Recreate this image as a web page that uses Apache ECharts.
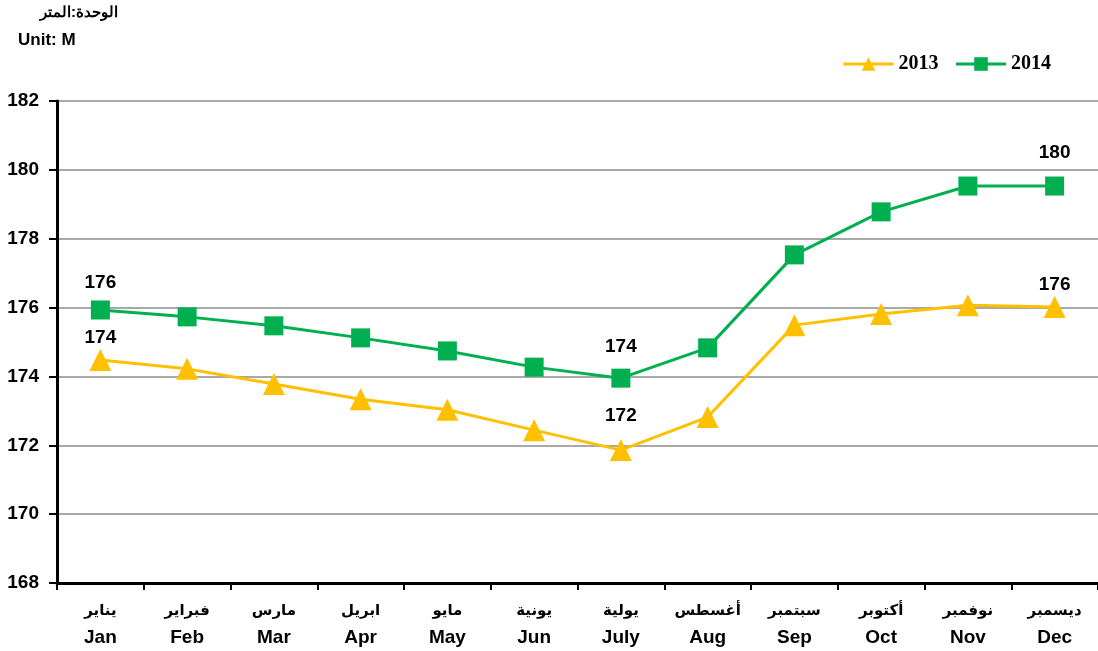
<!DOCTYPE html>
<html>
<head>
<meta charset="utf-8">
<script src="https://cdn.jsdelivr.net/npm/echarts@6/dist/echarts.min.js"></script>
<style>
  html, body { margin: 0; padding: 0; background: #fff; }
  #chart { width: 1098px; height: 651px; }
</style>
</head>
<body>
<div id="chart"></div>
<script>
const monthsEn = ['Jan', 'Feb', 'Mar', 'Apr', 'May', 'Jun', 'July', 'Aug', 'Sep', 'Oct', 'Nov', 'Dec']
const monthsAr = ['يناير', 'فبراير', 'مارس', 'ابريل', 'مايو', 'يونية', 'يولية', 'أغسطس', 'سبتمبر', 'أكتوبر', 'نوفمبر', 'ديسمبر']
const values2013 = [174.48, 174.22, 173.78, 173.34, 173.03, 172.44, 171.86, 172.82, 175.49, 175.81, 176.07, 176.02]
const values2014 = [175.93, 175.73, 175.47, 175.12, 174.74, 174.27, 173.95, 174.83, 177.53, 178.78, 179.53, 179.53]
const labeledIdx = [0, 6, 11]

const C2013 = '#FFC000'
const C2014 = '#00B050'

// label distances for the Jan / July / Dec points
function withLabels(vals, dist) {
  return vals.map((v, i) => labeledIdx.includes(i)
    ? { value: v, label: { show: true, position: 'top', distance: dist[labeledIdx.indexOf(i)] } }
    : v)
}

const chart = echarts.init(document.getElementById('chart'))
const labelFont = { fontFamily: 'Arial, Liberation Sans', fontWeight: 'bold', fontSize: 19, color: '#000' }

chart.setOption({
  animation: false,
  graphic: [
    { type: 'text', left: 40, top: 5, style: { text: 'الوحدة:المتر', font: 'bold 15px "Liberation Sans", Arial', fill: '#000' } },
    { type: 'text', left: 18, top: 32, style: { text: 'Unit: M', font: 'bold 17px "Liberation Sans", Arial', fill: '#000' } }
  ],
  legend: {
    top: 49, right: 42, itemWidth: 50, itemHeight: 17, itemGap: 16,
    lineStyle: { width: 3 },
    textStyle: { fontFamily: 'Liberation Serif, Times New Roman', fontWeight: 'bold', fontSize: 20, color: '#000' },
    data: ['2013', '2014']
  },
  grid: { left: 57, right: 0, top: 101, bottom: 68, containLabel: false },
  xAxis: {
    type: 'category',
    data: monthsEn,
    boundaryGap: true,
    axisLine: { lineStyle: { color: '#000', width: 3 } },
    axisTick: { show: true, length: 7, lineStyle: { color: '#000', width: 2 } },
    axisLabel: {
      interval: 0, margin: 14,
      formatter: (v, i) => '{ar|' + monthsAr[i] + '}\n{en|' + v + '}',
      rich: {
        ar: { fontFamily: 'Noto Sans, DejaVu Sans', fontWeight: 'bold', fontSize: 15, color: '#000', lineHeight: 28 },
        en: { fontFamily: 'Arial, Liberation Sans', fontWeight: 'bold', fontSize: 19, color: '#000', lineHeight: 26 }
      }
    }
  },
  yAxis: {
    type: 'value', min: 168, max: 182, interval: 2,
    axisLine: { show: true, lineStyle: { color: '#000', width: 3 } },
    axisTick: { show: true, length: 8, lineStyle: { color: '#000', width: 2 } },
    axisLabel: { margin: 18, ...labelFont },
    splitLine: { lineStyle: { color: '#8c8c8c', width: 1.5 } }
  },
  series: [
    {
      name: '2013', type: 'line', data: withLabels(values2013, [2, 14, 2]),
      symbol: 'triangle', symbolSize: 22,
      lineStyle: { color: C2013, width: 3 },
      itemStyle: { color: C2013 },
      label: { show: false, formatter: p => Math.round(p.value), ...labelFont }
    },
    {
      name: '2014', type: 'line', data: withLabels(values2014, [8, 12, 14]),
      symbol: 'rect', symbolSize: 19,
      lineStyle: { color: C2014, width: 3 },
      itemStyle: { color: C2014 },
      label: { show: false, formatter: p => Math.round(p.value), ...labelFont }
    }
  ]
})
</script>
</body>
</html>
